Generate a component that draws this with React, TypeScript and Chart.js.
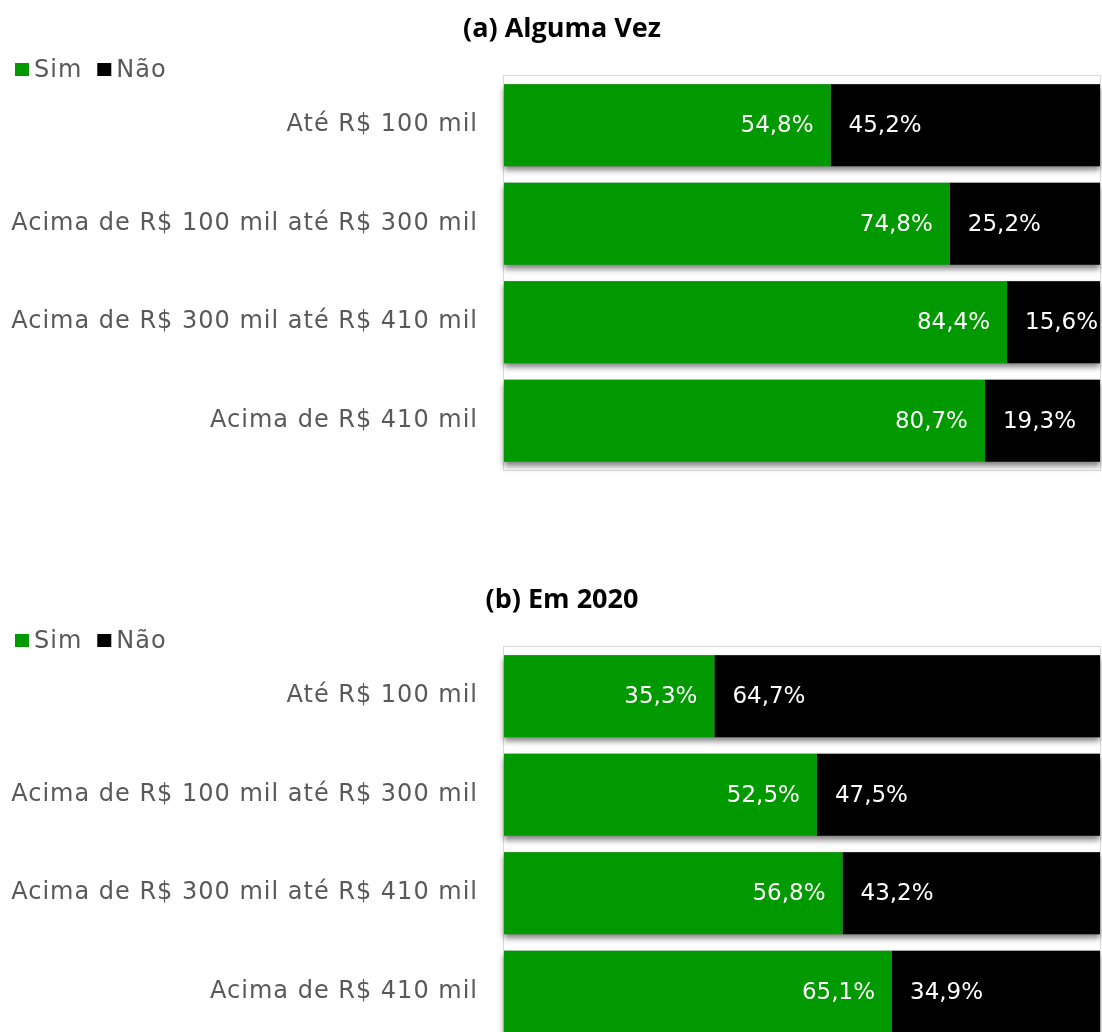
import React, { useEffect, useRef } from 'react';
import { Chart, registerables } from 'chart.js';

Chart.register(...registerables);

const categories = [
  'Até R$ 100 mil',
  'Acima de R$ 100 mil até R$ 300 mil',
  'Acima de R$ 300 mil até R$ 410 mil',
  'Acima de R$ 410 mil',
];
const seriesNames = ['Sim', 'Não'];
const seriesColors = ['#009900', '#000000'];
const simAlgumaVez = [54.8, 74.8, 84.4, 80.7];
const naoAlgumaVez = [45.2, 25.2, 15.6, 19.3];
const sim2020 = [35.3, 52.5, 56.8, 65.1];
const nao2020 = [64.7, 47.5, 43.2, 34.9];
const panelTitles = ['(a) Alguma Vez', '(b) Em 2020'];

const LABEL_SPACING = '1px';

const spacingPlugin = {
  id: 'spacing',
  beforeUpdate(chart: any) { chart.ctx.letterSpacing = LABEL_SPACING; },
  beforeLayout(chart: any) { chart.ctx.letterSpacing = LABEL_SPACING; },
  beforeDraw(chart: any) { chart.ctx.letterSpacing = LABEL_SPACING; },
};

const framePlugin = {
  id: 'frame',
  beforeDatasetsDraw(chart: any) {
    const { ctx, chartArea } = chart;
    const xs = chart.scales.x;
    ctx.save();
    ctx.strokeStyle = '#d9d9d9';
    ctx.lineWidth = 1;
    ctx.strokeRect(chartArea.left - 0.5, chartArea.top - 0.5, chartArea.right - chartArea.left + 1, chartArea.bottom - chartArea.top + 1);
    // soft shadow under each full stacked bar
    const meta = chart.getDatasetMeta(0);
    const n = chart.data.datasets.length;
    meta.data.forEach((bar: any, i: number) => {
      let total = 0;
      for (let d = 0; d < n; d++) total += chart.data.datasets[d].data[i];
      const x0 = xs.getPixelForValue(0);
      const x1 = xs.getPixelForValue(total);
      const h = bar.height;
      ctx.save();
      ctx.shadowColor = 'rgba(0,0,0,0.5)';
      ctx.shadowBlur = 6;
      ctx.shadowOffsetY = 4;
      ctx.fillStyle = '#888';
      ctx.fillRect(x0, bar.y - h / 2, x1 - x0, h);
      ctx.restore();
    });
    ctx.restore();
  },
};

const dataLabelPlugin = {
  id: 'dataLabels',
  afterDatasetsDraw(chart: any) {
    const ctx = chart.ctx;
    ctx.save();
    ctx.letterSpacing = '0px';
    ctx.font = '23px "DejaVu Sans"';
    ctx.fillStyle = '#ffffff';
    ctx.textBaseline = 'middle';
    chart.data.datasets.forEach((ds: any, di: number) => {
      const meta = chart.getDatasetMeta(di);
      meta.data.forEach((bar: any, i: number) => {
        const txt = Number(ds.data[i]).toFixed(1).replace('.', ',') + '%';
        if (di === 0) {
          ctx.textAlign = 'right';
          ctx.fillText(txt, bar.x - 17, bar.y + 1);
        } else {
          ctx.textAlign = 'left';
          ctx.fillText(txt, bar.base + 18, bar.y + 1);
        }
      });
    });
    ctx.restore();
  },
};

const headerPlugin = {
  id: 'header',
  afterDraw(chart: any, _args: any, opts: any) {
    const ctx = chart.ctx;
    ctx.save();
    ctx.letterSpacing = '0px';
    ctx.font = 'bold 27px "Open Sans"';
    ctx.fillStyle = '#000000';
    ctx.textAlign = 'center';
    ctx.textBaseline = 'middle';
    ctx.fillText(opts.text, 562, 29);
    // legend
    ctx.letterSpacing = LABEL_SPACING;
    ctx.font = '24px "DejaVu Sans"';
    ctx.textAlign = 'left';
    let x = 15;
    const y = 70;
    chart.data.datasets.forEach((ds: any) => {
      ctx.fillStyle = ds.backgroundColor;
      ctx.fillRect(x, y - 7, 14, 13);
      ctx.fillStyle = '#595959';
      ctx.fillText(ds.label, x + 19, y + 1);
      const w = ctx.measureText(ds.label).width;
      x += 19 + w + 15;
    });
    ctx.restore();
  },
};

function Panel({ title, sim, nao, top }: { title: string; sim: number[]; nao: number[]; top: number }) {
  const ref = useRef<HTMLCanvasElement>(null);
  useEffect(() => {
    if (!ref.current) return;
    const chart = new Chart(ref.current, {
      type: 'bar',
      data: {
        labels: categories,
        datasets: [
          { label: seriesNames[0], data: sim, backgroundColor: seriesColors[0], borderWidth: 0 },
          { label: seriesNames[1], data: nao, backgroundColor: seriesColors[1], borderWidth: 0 },
        ],
      },
      options: {
        indexAxis: 'y',
        responsive: false,
        animation: false,
        devicePixelRatio: 1,
        layout: { padding: { top: 76, bottom: 50, left: 0, right: 2 } },
        datasets: { bar: { categoryPercentage: 1, barPercentage: 0.8325 } },
        scales: {
          x: { stacked: true, min: 0, max: 100, display: false },
          y: {
            stacked: true,
            grid: { display: false, drawTicks: false },
            border: { display: false },
            ticks: {
              padding: 26,
              color: '#595959',
              font: { family: '"DejaVu Sans"', size: 24 },
            },
            afterFit: (s: any) => { s.width = 504; },
          },
        },
        plugins: {
          legend: { display: false },
          title: { display: false },
          tooltip: { enabled: false },
          header: { text: title },
        } as any,
      },
      plugins: [spacingPlugin, framePlugin, dataLabelPlugin, headerPlugin],
    } as any);
    return () => chart.destroy();
  }, [title, sim, nao]);
  return (
    <div style={{ position: 'absolute', left: 0, top, width: 1102, height: 520 }}>
      <canvas ref={ref} width={1102} height={520} style={{ display: 'block', width: 1102, height: 520 }} />
    </div>
  );
}

export default function App() {
  return (
    <div style={{ position: 'fixed', left: 0, top: 0, width: 1102, height: 1032, overflow: 'hidden', background: '#ffffff' }}>
      <Panel title={panelTitles[0]} sim={simAlgumaVez} nao={naoAlgumaVez} top={0} />
      <Panel title={panelTitles[1]} sim={sim2020} nao={nao2020} top={571} />
    </div>
  );
}
